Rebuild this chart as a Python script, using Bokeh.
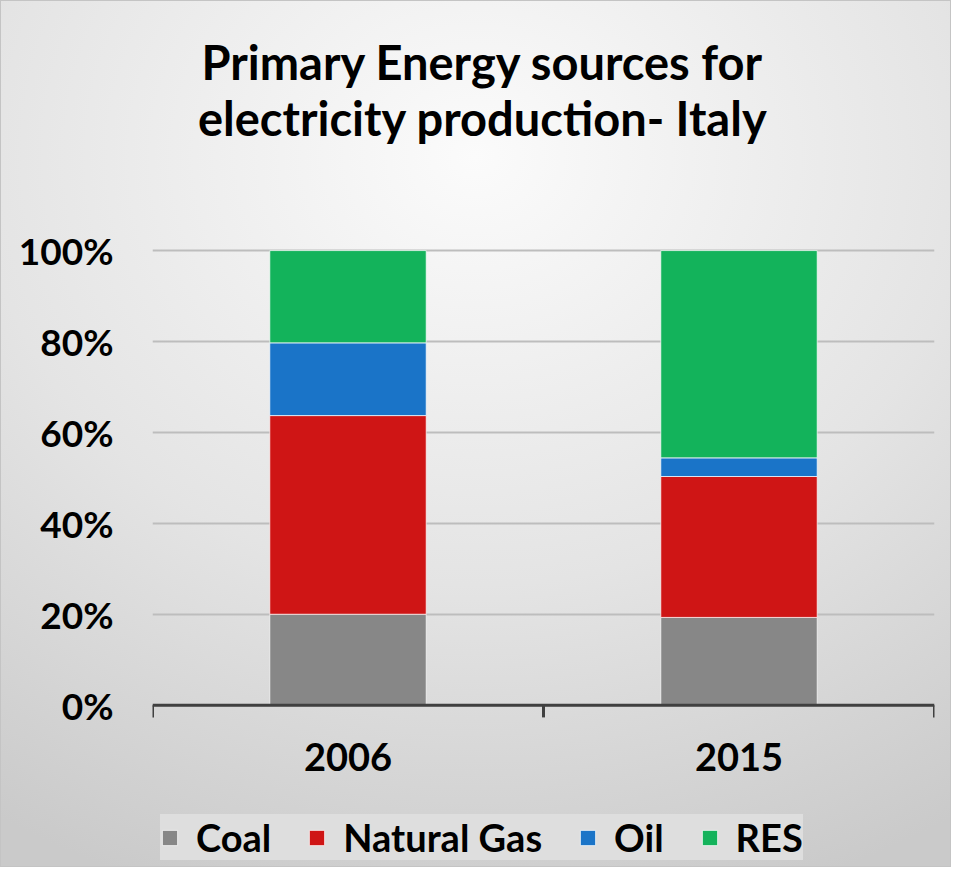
from bokeh.plotting import figure
from bokeh.models import (ColumnDataSource, Range1d, LinearAxis, FixedTicker,
                          PrintfTickFormatter, Label, Span)
from bokeh.core.properties import value
from bokeh.embed import file_html
from bokeh.resources import INLINE

# ---- data (percent shares) ----
years = ["2006", "2015"]
coal = [20.0, 19.3]
natural_gas = [43.7, 31.0]
oil = [16.0, 4.1]
res = [20.3, 45.6]
series_keys = ["coal", "natural_gas", "oil", "res"]
series_labels = ["Coal", "Natural Gas", "Oil", "RES"]
series_colors = ["#878787", "#cf1515", "#1a74c8", "#13b35b"]
y_ticks = [0, 20, 40, 60, 80, 100]
title_lines = ["Primary Energy sources for", "electricity production- Italy"]

source = ColumnDataSource(dict(year=years, coal=coal, natural_gas=natural_gas,
                               oil=oil, res=res))

FONT = "Lato"

# the plotting frame covers the whole height so that the title, category
# labels and legend (drawn inside it) are never clipped; 0..100 occupies the
# middle band, the rest of the range is room for those texts.
p = figure(width=951, height=867, x_range=years, y_range=Range1d(-35.5, 152.6),
           output_backend="svg", toolbar_location=None,
           x_axis_location=None, y_axis_location=None,
           min_border_left=151, min_border_right=18, min_border_bottom=2,
           min_border_top=10)

p.background_fill_alpha = 0
p.border_fill_alpha = 0
p.outline_line_color = None
p.styles = {"background": "radial-gradient(ellipse 95% 90% at 50% 18%, #fbfbfb 0%, #e4e4e4 55%, #cacaca 100%)",
            "border": "1px solid #c4c4c4"}

# title (two lines)
for line, ypos in zip(title_lines, [141.6, 129.1]):
    p.add_layout(Label(x=0.845, y=ypos, text=line, text_align="center",
                       text_baseline="middle", text_font=FONT,
                       text_font_size="47px", text_font_style="bold",
                       text_color="black"))

renderers = p.vbar_stack(series_keys, x="year", width=0.4, source=source,
                         fill_color=series_colors, line_color="white",
                         line_alpha=0.7, line_width=1,
                         legend_label=series_labels)

# y axis
yaxis = LinearAxis(ticker=FixedTicker(ticks=y_ticks),
                   formatter=PrintfTickFormatter(format="%d%%"))
yaxis.axis_line_color = None
yaxis.major_tick_line_color = None
yaxis.major_tick_in = 0
yaxis.major_tick_out = 0
yaxis.minor_tick_line_color = None
yaxis.major_label_standoff = 39
yaxis.major_label_text_font = FONT
yaxis.major_label_text_font_style = "bold"
yaxis.major_label_text_font_size = "37px"
yaxis.major_label_text_color = "black"
p.add_layout(yaxis, "left")

# grid lines
p.ygrid.ticker = FixedTicker(ticks=y_ticks)
p.ygrid.grid_line_color = "#bdbdbd"
p.ygrid.grid_line_width = 2
p.xgrid.grid_line_color = None

# category axis: base line, boundary tick marks and year labels
p.add_layout(Span(location=0, dimension="width", line_color="#404040",
                  line_width=3))
bounds = list(range(len(years) + 1))   # synthetic category boundaries
p.segment(x0=bounds, y0=[0] * len(bounds), x1=bounds, y1=[-2.7] * len(bounds),
          line_color="#404040", line_width=3)
p.text(x=years, y=[-11.5] * len(years), text=years, text_align="center",
       text_baseline="middle", text_font=value(FONT), text_font_size="38px",
       text_font_style="bold", text_color="black")

# legend
lg = p.legend[0]
lg.orientation = "horizontal"
lg.location = (8, 6)
lg.background_fill_color = "#dedede"
lg.background_fill_alpha = 1
lg.border_line_color = None
lg.label_text_font = FONT
lg.label_text_font_style = "bold"
lg.label_text_font_size = "38px"
lg.label_text_color = "black"
lg.glyph_width = 19
lg.glyph_height = 19
lg.label_standoff = 17
lg.spacing = 36
lg.padding = 11
lg.margin = 0
lg.label_text_baseline = "middle"

open("out.html", "w").write(file_html(p, INLINE))
